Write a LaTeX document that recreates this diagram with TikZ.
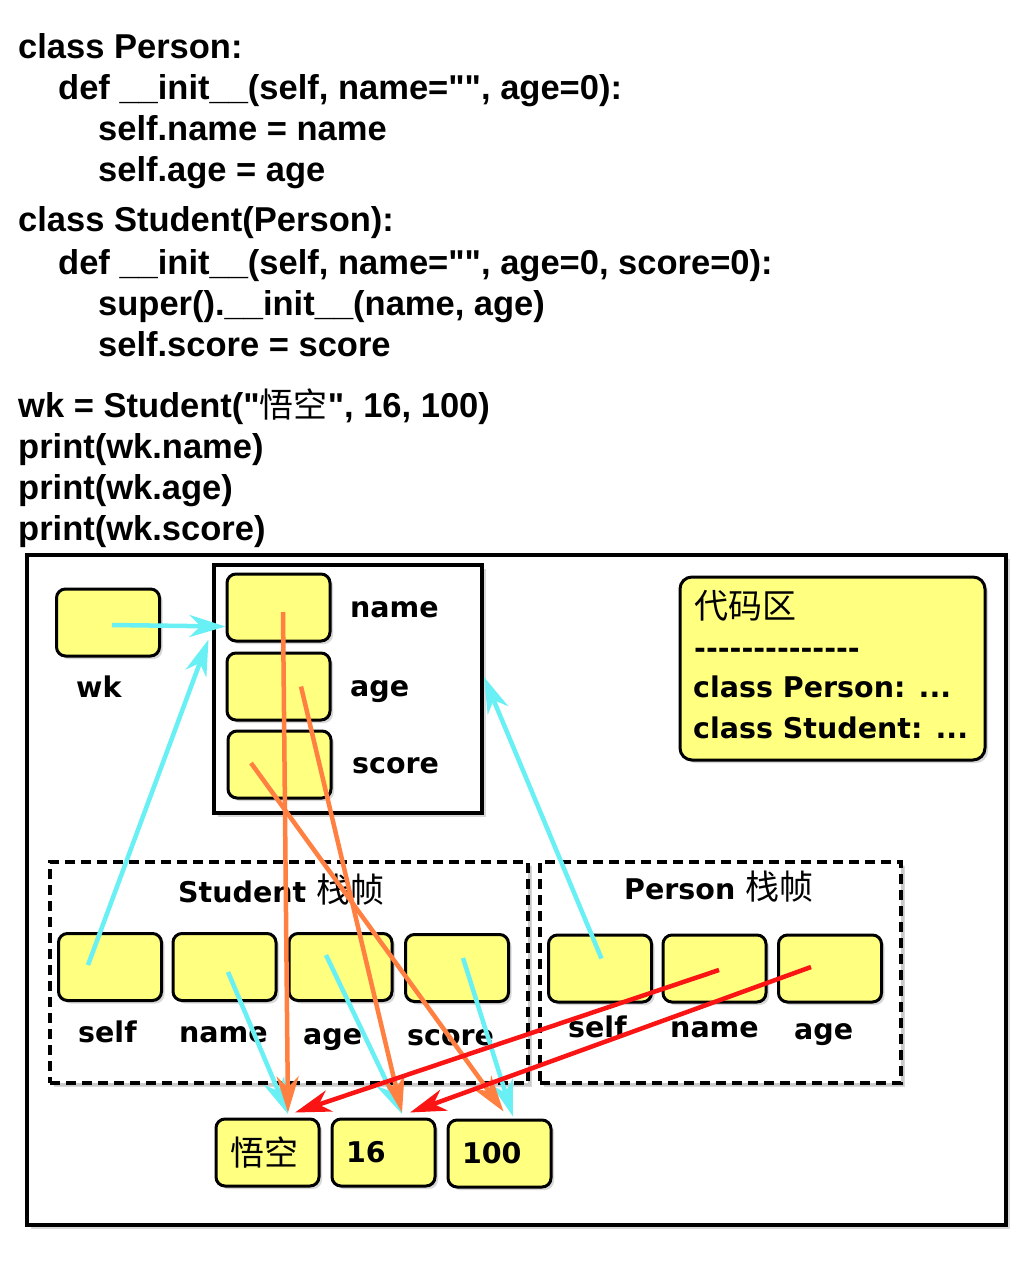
\documentclass[tikz,border=0pt]{standalone}
\usepackage{fontspec}
\setmainfont{DejaVu Sans}[Ligatures=TeXOff]
\newfontfamily\codefont{Liberation Sans}
\newfontfamily\cjk{Noto Sans CJK SC}
\usetikzlibrary{arrows.meta,shadows}
\definecolor{cellyellow}{RGB}{255,255,128}
\definecolor{refcyan}{RGB}{104,240,244}
\definecolor{reforange}{RGB}{255,128,64}
\definecolor{refred}{RGB}{250,20,20}
\newcommand{\codesize}{\fontsize{34.5pt}{40pt}\selectfont}
\newcommand{\labsize}{\fontsize{28.5pt}{34pt}\selectfont}
\newcommand{\hz}[1]{{\cjk\mdseries\fontsize{34pt}{40pt}\selectfont #1}}

\begin{document}
\begin{tikzpicture}[x=1pt,y=-1pt,
    cell/.style={draw,line width=3pt,rounded corners=9pt,fill=cellyellow,
      minimum width=103pt,minimum height=67pt,inner sep=0pt,
      drop shadow={shadow xshift=3pt,shadow yshift=-3pt,opacity=.3}},
    valcell/.style={cell,text width=75pt,align=left,inner xsep=14pt,font=\labsize\bfseries},
    lab/.style={anchor=base west,font=\labsize\bfseries,inner sep=0pt},
    code/.style={anchor=base west,font=\codesize\codefont\bfseries,inner sep=0pt},
    frame/.style={draw,line width=4pt,fill=white,inner sep=0pt,
      drop shadow={shadow xshift=4pt,shadow yshift=-4pt,opacity=.3}},
    stackframe/.style={frame,dash pattern=on 10pt off 6pt,
      drop shadow={shadow xshift=3pt,shadow yshift=-3pt,opacity=.15}},
    ref/.style={line width=4.5pt,-{Stealth[length=36pt,width=22pt,inset=11pt]}}]
  \useasboundingbox (0,0) rectangle (1031,1273);

  % the program
  \node[code] (c1) at (18,59) {class Person:};
  \node[code] (c2) at (58,100) {def \_\_init\_\_(self, name="", age=0):};
  \node[code] (c3) at (98,141) {self.name = name};
  \node[code] (c4) at (98,182) {self.age = age};
  \node[code] (c5) at (18,232) {class Student(Person):};
  \node[code] (c6) at (58,274) {def \_\_init\_\_(self, name="", age=0, score=0):};
  \node[code] (c7) at (98,315) {super().\_\_init\_\_(name, age)};
  \node[code] (c8) at (98,356) {self.score = score};
  \node[code] (c9) at (18,417) {wk = Student("\hz{悟空}", 16, 100)};
  \node[code] (c10) at (18,458) {print(wk.name)};
  \node[code] (c11) at (18,499) {print(wk.age)};
  \node[code] (c12) at (18,540) {print(wk.score)};

  % memory
  \node[frame,minimum width=979pt,minimum height=670pt] (mem) at (516.5,890) {};
  \node[frame,minimum width=268pt,minimum height=248pt] (obj) at (348,689) {};
  \node[cell] (wk) at (108,622.5) {};
  \node[lab] (wklab) at (76,697) {wk};
  \node[cell] (oname) at (278.5,607.5) {};
  \node[cell] (oage) at (278.5,686.5) {};
  \node[cell] (oscore) at (279.5,764.5) {};
  \node[lab] (onamelab) at (350,617) {name};
  \node[lab] (oagelab) at (350,696) {age};
  \node[lab] (oscorelab) at (352,773) {score};

  \node[cell,rounded corners=12pt,minimum width=305pt,minimum height=183pt] (codearea) at (832.5,668.5) {};
  \node[anchor=west,inner sep=0pt] (cahead) at (694,606) {\hz{代码区}};
  \node[lab] (caline) at (694,658) {--------------};
  \node[lab] (caperson) at (693,697) {class Person: ...};
  \node[lab] (castudent) at (693,738) {class Student: ...};

  % stack frames
  \node[stackframe,minimum width=478pt,minimum height=221pt] (sframe) at (289,972.5) {};
  \node[lab] (stitle) at (178,902) {Student \hz{栈帧}};
  \node[cell] (sself) at (110,967) {};
  \node[cell] (sname) at (224.5,967) {};
  \node[cell] (sage) at (340.5,967) {};
  \node[cell] (sscore) at (457,968) {};
  \node[lab] (sselflab) at (78,1042) {self};
  \node[lab] (snamelab) at (179,1042) {name};
  \node[lab] (sagelab) at (303,1044) {age};
  \node[lab] (sscorelab) at (407,1045) {score};

  \node[stackframe,minimum width=361pt,minimum height=221pt] (pframe) at (720.5,972.5) {};
  \node[lab] (ptitle) at (624,899) {Person \hz{栈帧}};
  \node[cell] (pself) at (600,968.5) {};
  \node[cell] (pname) at (714.5,968.5) {};
  \node[cell] (page) at (830,968.5) {};
  \node[lab] (pselflab) at (568,1037) {self};
  \node[lab] (pnamelab) at (670,1037) {name};
  \node[lab] (pagelab) at (794,1039) {age};

  % values
  \node[valcell] (vname) at (267.5,1152.5) {\hz{悟空}};
  \node[valcell] (vage) at (383.5,1152.5) {16};
  \node[valcell] (vscore) at (499.5,1153.5) {100};

  % references
  \draw[ref,refcyan] ([xshift=4pt,yshift=-2.5pt]wk.center) -- ([yshift=-19pt]oname.west);
  \draw[ref,refcyan] ([xshift=-22pt,yshift=2pt]sself.center) -- ([xshift=-17pt,yshift=-32pt]oname.west);
  \draw[ref,refcyan] ([xshift=1.5pt,yshift=10pt]pself.center) -- ([yshift=12pt]obj.east);
  \draw[ref,refcyan] ([xshift=3.5pt,yshift=-5pt]sname.center) -- ([xshift=20.5pt,yshift=3.5pt]vname.north);
  \draw[ref,refcyan] ([xshift=-14.5pt,yshift=12pt]sage.center) -- ([xshift=18.5pt,yshift=3.5pt]vage.north);
  \draw[ref,refcyan] ([xshift=6pt,yshift=10pt]sscore.center) -- ([xshift=13.5pt,yshift=2pt]vscore.north);
  \draw[ref,reforange] ([xshift=4.5pt,yshift=-4.5pt]oname.center) -- ([xshift=20.5pt,yshift=5pt]vname.north);
  \draw[ref,reforange] ([xshift=22.5pt]oage.center) -- ([xshift=18.5pt,yshift=5pt]vage.north);
  \draw[ref,reforange] ([xshift=-28.5pt,yshift=1.5pt]oscore.center) -- ([xshift=4pt,yshift=7pt]vscore.north);
  \draw[ref,refred] ([xshift=4.5pt,yshift=-1.5pt]pname.center) -- ([xshift=27.5pt,yshift=5pt]vname.north);
  \draw[ref,refred] ([xshift=-19pt,yshift=1.5pt]page.center) -- ([xshift=26.5pt,yshift=5pt]vage.north);
\end{tikzpicture}
\end{document}
